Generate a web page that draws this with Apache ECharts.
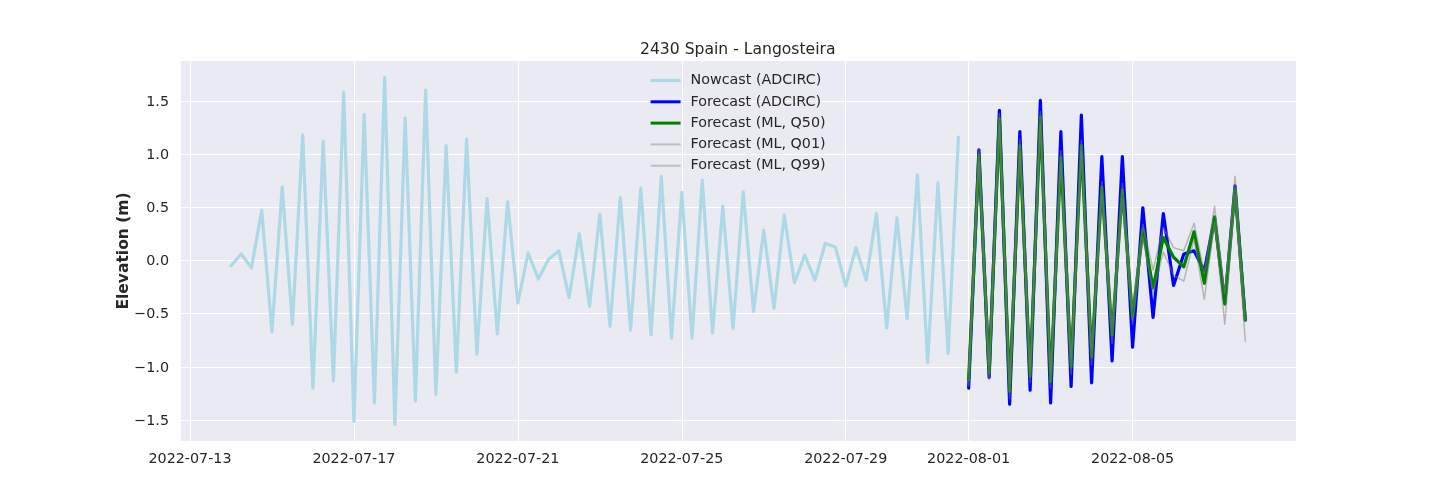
<!DOCTYPE html>
<html>
<head>
<meta charset="utf-8">
<style>html,body{margin:0;padding:0;background:#fff}#c{width:1440px;height:504px}</style>
<script src="https://cdn.jsdelivr.net/npm/echarts@6/dist/echarts.min.js"></script>
</head>
<body>
<div id="c"></div>
<script>
const titleText = '2430 Spain - Langosteira';
const yAxisName = 'Elevation (m)';
const seriesNames = ['Nowcast (ADCIRC)','Forecast (ADCIRC)','Forecast (ML, Q50)','Forecast (ML, Q01)','Forecast (ML, Q99)'];
const xTickLabels = ['2022-07-13','2022-07-17','2022-07-21','2022-07-25','2022-07-29','2022-08-01','2022-08-05'];
const yTicks = [-1.5,-1,-0.5,0,0.5,1,1.5];
const nowcastStart = '2022-07-14T00:00:00Z';
const forecastStart = '2022-08-01T00:00:00Z';
const nowcast = [-0.05,0.06,-0.07,0.47,-0.67,0.69,-0.60,1.18,-1.20,1.12,-1.13,1.58,-1.51,1.37,-1.34,1.72,-1.54,1.34,-1.32,1.60,-1.26,1.08,-1.05,1.14,
 -0.88,0.58,-0.69,0.55,-0.40,0.07,-0.175,0.01,0.09,-0.35,0.25,-0.43,0.435,-0.62,0.59,-0.655,0.68,-0.70,0.79,-0.73,0.64,-0.73,0.755,-0.68,0.51,-0.64,
 0.645,-0.48,0.285,-0.45,0.425,-0.21,0.05,-0.185,0.16,0.125,-0.24,0.12,-0.185,0.44,-0.635,0.40,-0.55,0.805,-0.96,0.73,-0.875,1.16];
const forecastAdcirc = [-1.2,1.04,-1.1,1.41,-1.35,1.21,-1.22,1.505,-1.34,1.21,-1.185,1.365,-1.15,0.975,-0.945,0.975,-0.815,0.495,-0.535,0.44,-0.235,0.06,0.09,-0.1,0.40,-0.40,0.70,-0.56];
const forecastQ50 = [-1.12,0.99,-1.06,1.33,-1.23,1.08,-1.09,1.35,-1.14,0.97,-1.00,1.08,-0.905,0.69,-0.70,0.66,-0.53,0.285,-0.26,0.215,0.03,-0.06,0.27,-0.215,0.41,-0.41,0.665,-0.56];
const forecastQ01 = [-1.18,0.93,-1.12,1.27,-1.30,1.02,-1.15,1.29,-1.20,0.91,-1.07,1.02,-0.98,0.62,-0.78,0.58,-0.60,0.22,-0.31,0.08,-0.14,-0.195,0.20,-0.365,0.36,-0.60,0.61,-0.76];
const forecastQ99 = [-1.05,1.05,-0.98,1.38,-1.15,1.14,-1.02,1.40,-1.05,1.03,-0.92,1.13,-0.83,0.74,-0.62,0.72,-0.45,0.34,-0.09,0.31,0.12,0.09,0.35,-0.12,0.51,-0.31,0.79,-0.56];

const SIX_HOURS = 6*3600*1000;
const pair = (start, vals) => vals.map((v,i)=>[Date.parse(start)+i*SIX_HOURS, v]);
const xTickValues = xTickLabels.map(d=>Date.parse(d+'T00:00:00Z'));
const fontFamily = '"DejaVu Sans"';
const textColor = '#262626';
const fontSize = 14.3;
const seriesColors = ['#ADD8E6','#0000FF','#008000','#808080','#808080'];
const seriesWidths = [3.2,3.2,3.2,1.5,1.5];
const legendWidths = [3.2,3.0,3.0,2,2];
const legendColors = ['#ADD8E6','#0000FF','#008000','#BEBEBE','#BEBEBE'];

function line(i, start, vals, opacity, z){
  return {name:seriesNames[i], type:'line', data:pair(start, vals), symbol:'none', showSymbol:false, smooth:false, z,
    lineStyle:{color:seriesColors[i], width:seriesWidths[i], opacity, join:'round', cap:'round'}, itemStyle:{color:seriesColors[i]}, emphasis:{disabled:true}, silent:true, animation:false};
}

const chart = echarts.init(document.getElementById('c'), null, {renderer:'canvas'});
chart.setOption({
  animation:false,
  backgroundColor:'#ffffff',
  textStyle:{fontFamily},
  title:{text:titleText, left:635, top:37, textStyle:{fontFamily, fontSize:15.6, fontWeight:'normal', color:textColor}},
  grid:{left:181, top:61, width:1115, height:380, show:true, backgroundColor:'#EAEAF2', borderWidth:0, containLabel:false},
  legend:{left:644, top:68.5, orient:'vertical', itemWidth:30, itemHeight:12, itemGap:7.3, selectedMode:false,
    itemStyle:{opacity:0},
    textStyle:{fontFamily, fontSize, color:textColor, padding:[0,0,0,5]},
    data:seriesNames.map((name,i)=>({name, lineStyle:{width:legendWidths[i], color:legendColors[i], opacity:1, cap:'butt'}}))},
  xAxis:{type:'value', scale:true,
    min:Date.parse('2022-07-12T18:44:00Z'), max:Date.parse('2022-08-08T23:42:00Z'),
    axisLine:{show:false}, axisTick:{show:false, customValues:xTickValues},
    splitLine:{show:true, lineStyle:{color:'#ffffff', width:1}},
    axisLabel:{show:true, customValues:xTickValues, margin:11, color:textColor, fontFamily, fontSize, hideOverlap:false,
      formatter:v=>new Date(v).toISOString().slice(0,10)}},
  yAxis:{type:'value', min:-1.697, max:1.874, name:yAxisName, nameLocation:'middle', nameGap:49, nameMoveOverlap:false,
    nameTextStyle:{fontFamily, fontSize:15.5, fontWeight:'bold', color:textColor},
    axisLine:{show:false}, axisTick:{show:false, customValues:yTicks},
    splitLine:{show:true, lineStyle:{color:'#ffffff', width:1}},
    axisLabel:{show:true, customValues:yTicks, margin:12, verticalAlign:'top', padding:[-6,0,0,0], color:textColor, fontFamily, fontSize,
      formatter:v=>v.toFixed(1).replace('-','\u2212')}},
  series:[
    line(0, nowcastStart, nowcast, 1, 2),
    line(1, forecastStart, forecastAdcirc, 1, 3),
    line(2, forecastStart, forecastQ50, 1, 4),
    line(3, forecastStart, forecastQ01, 0.5, 5),
    line(4, forecastStart, forecastQ99, 0.5, 5)
  ]
});
</script>
</body>
</html>
